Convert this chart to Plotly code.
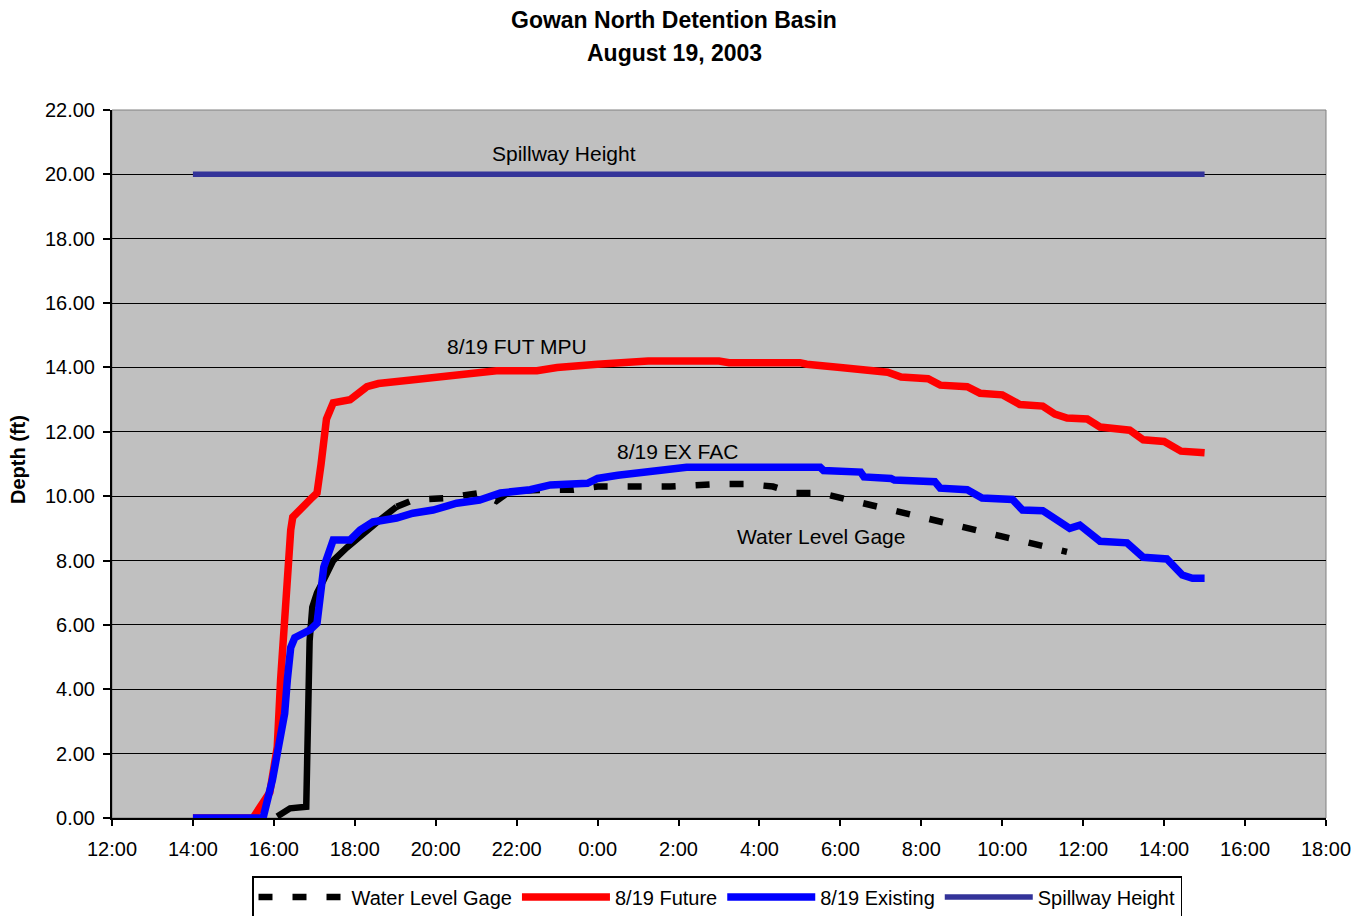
import plotly.graph_objects as go

# ---------------- data ----------------
D1 = "2003-08-19 "
D2 = "2003-08-20 "

gage_rise_time = [D1 + t for t in ["16:05", "16:24", "16:48", "16:50", "16:53", "16:57", "17:04",
                                   "17:14", "17:28", "17:48", "18:12", "18:37", "19:02"]]
gage_rise_depth = [0.05, 0.3, 0.35, 3.9, 5.5, 6.55, 7.0, 7.4, 8.0, 8.4, 8.85, 9.26, 9.67]

gage_time = [D1 + t for t in ["19:02", "19:26", "20:16", "21:05", "21:30", "21:50", "22:40", "23:24"]] + \
            [D2 + t for t in ["00:00", "01:00", "01:48", "03:00", "03:40", "04:20", "04:50", "05:30",
                              "06:00", "06:40", "07:30", "08:10", "08:40", "09:40", "10:40", "11:36"]]
gage_depth = [9.67, 9.88, 9.94, 10.1, 9.85, 10.15, 10.2, 10.2,
              10.3, 10.3, 10.3, 10.38, 10.38, 10.3, 10.1, 10.1,
              9.95, 9.73, 9.5, 9.3, 9.17, 8.85, 8.55, 8.27]

future_time = [D1 + t for t in ["14:00", "15:29", "15:54", "16:05", "16:10", "16:16", "16:20", "16:25",
                                "16:28", "16:54", "17:04", "17:10", "17:18", "17:28", "17:53", "18:18",
                                "18:35", "19:20", "20:00", "21:00", "21:30", "22:30", "23:00"]] + \
              [D2 + t for t in ["00:00", "01:15", "03:00", "03:15", "05:00", "05:10", "06:00", "06:30",
                                "07:10", "07:30", "08:10", "08:28", "09:08", "09:27", "10:00", "10:26",
                                "11:00", "11:18", "11:36", "12:06", "12:25", "13:09", "13:29", "14:00",
                                "14:25", "15:00"]]
future_depth = [0, 0, 0.8, 2.2, 4.3, 5.8, 7.4, 8.95,
                9.35, 9.9, 10.1, 11.0, 12.4, 12.9, 13.0, 13.4,
                13.5, 13.6, 13.7, 13.8, 13.9, 13.9, 14.0,
                14.1, 14.2, 14.2, 14.15, 14.15, 14.1, 14.0, 13.95,
                13.85, 13.7, 13.65, 13.45, 13.4, 13.2, 13.15, 12.85,
                12.8, 12.55, 12.43, 12.4, 12.15, 12.05, 11.75, 11.7,
                11.4, 11.35]

existing_time = [D1 + t for t in ["14:00", "15:44", "15:58", "16:05", "16:16", "16:20", "16:25", "16:31",
                                  "16:54", "17:04", "17:10", "17:14", "17:28", "17:53", "18:08", "18:27",
                                  "19:02", "19:26", "19:56", "20:31", "21:05", "21:36", "22:20", "22:50",
                                  "23:45"]] + \
                [D2 + t for t in ["00:00", "00:30", "01:15", "02:12", "05:30", "05:35", "06:30", "06:35",
                                  "07:15", "07:20", "08:20", "08:28", "09:08", "09:30", "10:15", "10:30",
                                  "11:00", "11:20", "11:40", "11:55", "12:25", "13:05", "13:29", "14:04",
                                  "14:27", "14:42", "15:00"]]
existing_depth = [0, 0, 1.2, 1.9, 3.25, 4.3, 5.3, 5.6,
                  5.85, 6.05, 7.0, 7.8, 8.64, 8.64, 8.95, 9.2,
                  9.32, 9.47, 9.57, 9.78, 9.88, 10.1, 10.2, 10.35,
                  10.4,
                  10.55, 10.65, 10.75, 10.9, 10.9, 10.8, 10.75, 10.6,
                  10.55, 10.5, 10.45, 10.25, 10.2, 9.94, 9.9, 9.57,
                  9.55, 9.26, 9.0, 9.1, 8.6, 8.55, 8.1, 8.05,
                  7.55, 7.45, 7.45]

spill_time = [D1 + "14:00", D2 + "15:00"]
spill_depth = [20.0, 20.0]

y_ticks = [0, 2, 4, 6, 8, 10, 12, 14, 16, 18, 20, 22]

FONT = "Liberation Sans, Arial, sans-serif"

fig = go.Figure()

fig.add_trace(go.Scatter(x=gage_rise_time, y=gage_rise_depth, mode="lines",
                         line=dict(color="black", width=6.5), showlegend=False,
                         legendgroup="gage", hoverinfo="skip"))
fig.add_trace(go.Scatter(x=gage_time, y=gage_depth, mode="lines", name="Water Level Gage",
                         legendgroup="gage",
                         line=dict(color="black", width=6.5, dash="14px,20px")))
fig.add_trace(go.Scatter(x=future_time, y=future_depth, mode="lines", name="8/19 Future",
                         line=dict(color="#FF0000", width=7.5)))
fig.add_trace(go.Scatter(x=existing_time, y=existing_depth, mode="lines", name="8/19 Existing",
                         line=dict(color="#0000FF", width=7.5)))
fig.add_trace(go.Scatter(x=spill_time, y=spill_depth, mode="lines", name="Spillway Height",
                         line=dict(color="#333399", width=5.5)))

ann_font = dict(family=FONT, size=21, color="black")
PW = 1214.0
PH = 708.0
annotations = [
    dict(x=D1 + "23:10", y=20.66, text="Spillway Height", showarrow=False, font=ann_font,
         xref="x", yref="y"),
    dict(x=D1 + "22:00", y=14.64, text="8/19 FUT MPU", showarrow=False, font=ann_font,
         xref="x", yref="y"),
    dict(x=D2 + "01:58", y=11.4, text="8/19 EX FAC", showarrow=False, font=ann_font,
         xref="x", yref="y"),
    dict(x=D2 + "05:31", y=8.76, text="Water Level Gage", showarrow=False, font=ann_font,
         xref="x", yref="y"),
    dict(x=(674 - 112) / PW, y=(818 - 20) / PH, xref="paper", yref="paper", xanchor="center",
         yanchor="middle", showarrow=False, text="<b>Gowan North Detention Basin</b>",
         font=dict(family=FONT, size=23, color="black")),
    dict(x=(674 - 112) / PW, y=(818 - 53) / PH, xref="paper", yref="paper", xanchor="center",
         yanchor="middle", showarrow=False, text="<b>August 19, 2003</b>",
         font=dict(family=FONT, size=23, color="black")),
    dict(x=(18 - 112) / PW, y=(818 - 460) / PH, xref="paper", yref="paper", xanchor="center",
         yanchor="middle", showarrow=False, text="<b>Depth (ft)</b>", textangle=-90,
         font=dict(family=FONT, size=20, color="black")),
]

fig.update_layout(
    width=1367, height=916,
    margin=dict(l=112, r=41, t=110, b=98, autoexpand=False),
    paper_bgcolor="white",
    plot_bgcolor="#C0C0C0",
    font=dict(family=FONT, size=20, color="black"),
    annotations=annotations,
    shapes=[dict(type="rect", xref="paper", yref="paper", x0=0, x1=1, y0=0, y1=1,
                 line=dict(color="#808080", width=1), layer="below")],
    legend=dict(orientation="h", x=(717 - 112) / PW, xanchor="center", y=(818 - 876) / PH,
                yanchor="top",
                bordercolor="black", borderwidth=1.5, bgcolor="white",
                font=dict(family=FONT, size=20, color="black"),
                itemwidth=88, tracegroupgap=0, traceorder="normal"),
    xaxis=dict(type="date", range=[D1 + "12:00", D2 + "18:00"],
               tick0=D1 + "12:00", dtick=2 * 3600 * 1000, tickformat="%-H:%M",
               showgrid=False, zeroline=False, showline=True, linecolor="black", linewidth=2,
               ticks="outside", ticklen=6, tickwidth=2, tickcolor="black",
               ticklabelstandoff=6,
               tickfont=dict(family=FONT, size=20, color="black")),
    yaxis=dict(range=[0, 22], tickvals=y_ticks, tickformat=".2f",
               showgrid=True, gridcolor="black", gridwidth=1, zeroline=False,
               showline=True, linecolor="black", linewidth=2,
               ticks="outside", ticklen=7, tickwidth=2, tickcolor="black",
               ticklabelstandoff=4,
               tickfont=dict(family=FONT, size=20, color="black")),
    hovermode=False,
)

fig.write_html("out.html")
